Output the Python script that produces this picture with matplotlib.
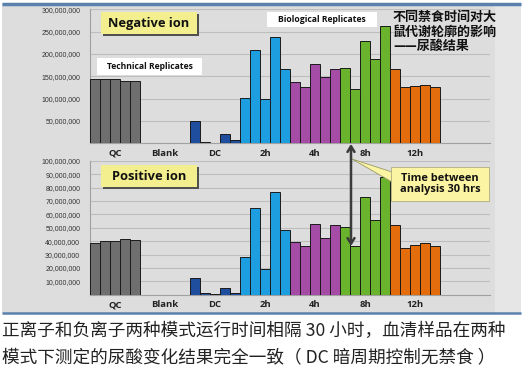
import numpy as np
import matplotlib.pyplot as plt
from matplotlib.patches import Rectangle, Polygon, FancyArrowPatch

plt.rcParams['font.family'] = ['Open Sans', 'Noto Sans CJK SC', 'DejaVu Sans']

# categories and colours
groups = ['QC', 'Blank', 'DC', '2h', '4h', '8h', '12h']
group_colors = ['#6f6f6f', '#dcdcdc', '#1f4e9e', '#1d9ee0', '#a54ca6', '#6ab42d', '#e36d0c']

# negative ion (millions)
neg_qc = [145, 145, 143, 139, 139]
neg_blank = [0, 0, 0, 0, 0]
neg_dc = [50, 3.7, 1.5, 20.8, 7.4]
neg_2h = [102.5, 208, 100, 239, 165.7]
neg_4h = [136.7, 126, 178, 148.6, 165.7]
neg_8h = [168, 122, 228.8, 189.4, 263.7]
neg_12h = [165.7, 126, 127.8, 131.5, 126]

# positive ion (millions)
pos_qc = [38.5, 40.3, 40.3, 41.3, 40.5]
pos_blank = [0, 0, 0, 0, 0]
pos_dc = [12.7, 1.0, 0.5, 5.0, 1.5]
pos_2h = [27.9, 65, 19, 76.4, 48.3]
pos_4h = [39.3, 36.6, 52.7, 42.3, 51.7]
pos_8h = [50.5, 36, 72.9, 55.5, 87.6]
pos_12h = [52, 34.6, 36.8, 38.3, 36.6]

neg = [neg_qc, neg_blank, neg_dc, neg_2h, neg_4h, neg_8h, neg_12h]
pos = [pos_qc, pos_blank, pos_dc, pos_2h, pos_4h, pos_8h, pos_12h]

W, H = 528, 374
fig = plt.figure(figsize=(W / 100, H / 100), dpi=100)

# background panel (pixel coords)
bg = fig.add_axes([0, 0, 1, 1], zorder=-1)
bg.set_xlim(0, W); bg.set_ylim(H, 0); bg.axis('off')
bg.add_patch(Rectangle((2, 3), 519, 310, color='#dddddd', lw=0))
bg.add_patch(Rectangle((495, 3), 26, 310, color='#e6e6e6', lw=0))
bg.plot([2, 521], [3.5, 3.5], color='#5a81ad', lw=2.5, solid_capstyle='butt')
bg.plot([2, 521], [313, 313], color='#5a81ad', lw=1.8, solid_capstyle='butt')


def px_axes(left, top, right, bottom):
    return fig.add_axes([left / W, 1 - bottom / H, (right - left) / W, (bottom - top) / H])


def draw_panel(ax, series, ymax, step):
    for g, (vals, col) in enumerate(zip(series, group_colors)):
        if max(vals) == 0:
            continue
        x = g * 5 + np.arange(len(vals))
        ax.bar(x, np.array(vals) * 1e6, width=1, align='edge', color=col,
               edgecolor='#1a1a1a', linewidth=0.7, zorder=3)
    ax.set_facecolor('none')
    ax.set_xlim(0, 40)
    ax.set_ylim(0, ymax * 1e6)
    ticks = np.arange(step, ymax + 1, step) * 1e6
    ax.set_yticks(ticks)
    ax.set_yticklabels([f'{int(t):,}' for t in ticks], fontsize=5,
                       family='Liberation Sans', color='#333333')
    ax.set_xticks([g * 5 + 2.5 for g in range(len(groups))])
    ax.set_xticklabels(groups, fontsize=6.8, fontweight='bold', color='#222222')
    ax.tick_params(length=0)
    ax.tick_params(axis='y', pad=7)
    ax.tick_params(axis='x', pad=4)
    ax.grid(axis='y', color='#bdbdbd', lw=0.8, zorder=0)
    for s in ['top', 'right']:
        ax.spines[s].set_visible(False)
    for s in ['left', 'bottom']:
        ax.spines[s].set_color('#a0a0a0')
        ax.spines[s].set_linewidth(0.8)


ax1 = px_axes(90, 9.3, 490, 143.3)
draw_panel(ax1, neg, 300, 50)
ax2 = px_axes(90, 160.7, 490, 294.7)
draw_panel(ax2, pos, 100, 10)

# annotations overlay (pixel coords)
ov = fig.add_axes([0, 0, 1, 1], zorder=10)
ov.set_xlim(0, W); ov.set_ylim(H, 0); ov.axis('off')


def label_box(x0, y0, x1, y1, text, fc, fs, shadow=False, ec='none'):
    if shadow:
        ov.add_patch(Rectangle((x0 + 1.5, y0 + 1.5), x1 - x0, y1 - y0, color='#505050', lw=0))
    ov.add_patch(Rectangle((x0, y0), x1 - x0, y1 - y0, fc=fc, ec=ec, lw=0.6))
    ov.text((x0 + x1) / 2, (y0 + y1) / 2, text, ha='center', va='center',
            fontsize=fs, fontweight='bold', color='#111111', linespacing=1.1)


label_box(101, 12, 197, 34, 'Negative ion', '#f3ef8e', 9.3, shadow=True)
label_box(101, 165, 197, 187, 'Positive ion', '#f3ef8e', 9.3, shadow=True)
label_box(97, 58, 202, 75, 'Technical Replicates', 'white', 6.2)
label_box(267, 12, 377, 27, 'Biological Replicates', 'white', 6.2)

# callout
ov.add_patch(Polygon([[352, 159], [392, 172], [392, 182]], closed=True,
                     fc='#fbf4a2', ec='#9a9a6a', lw=0.6, zorder=4))
ov.add_patch(Rectangle((391, 167), 98, 34, fc='#fbf4a2', ec='#b0ad80', lw=0.6, zorder=5))
ov.text(440, 184, 'Time between\nanalysis 30 hrs', ha='center', va='center',
        fontsize=7.9, fontweight='bold', color='#111111', linespacing=1.0, zorder=6)

# double arrow between the two panels
ov.add_patch(FancyArrowPatch((351, 144), (351, 246), arrowstyle='<->,head_length=4,head_width=2.5',
                             color='#3a3a3a', lw=1.8, shrinkA=0, shrinkB=0, zorder=7))

ov.text(393, 10, '不同禁食时间对大\n鼠代谢轮廓的影响\n——尿酸结果', ha='left', va='top',
        fontsize=9.4, fontweight='heavy', color='#111111', linespacing=1.05,
        family=['Noto Sans CJK SC', 'DejaVu Sans'])

# caption
cap_font = ['Noto Sans CJK SC', 'DejaVu Sans']
ov.text(2, 331, '正离子和负离子两种模式运行时间相隔 30 小时，血清样品在两种',
        ha='left', va='center', fontsize=12.7, color='#222222', fontweight='light',
        family=cap_font)
ov.text(2, 357, '模式下测定的尿酸变化结果完全一致（ DC 暗周期控制无禁食 ）',
        ha='left', va='center', fontsize=12.7, color='#222222', fontweight='light',
        family=cap_font)

fig.savefig('out.png', dpi=100)
